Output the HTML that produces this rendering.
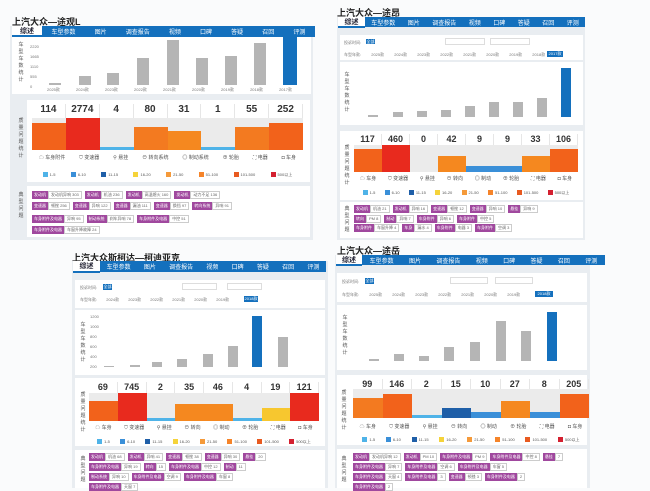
<!DOCTYPE html>
<html><head><meta charset="utf-8">
<style>
*{margin:0;padding:0;box-sizing:border-box}
body{width:650px;height:488px;background:#fafbfc;position:relative;overflow:hidden;font-family:"Liberation Sans","Noto Sans CJK SC",sans-serif}
.a{position:absolute}
.pan{position:absolute;background:#e9edf1}
.bx{position:absolute;background:#fff}
.ttl{position:absolute;font-size:9px;font-weight:bold;color:#222;white-space:nowrap}
.tabs{position:absolute;background:#1470bd;display:flex;justify-content:space-around;align-items:center;color:#fff;font-size:6px;white-space:nowrap}
.wt{position:absolute;background:#fff;font-size:7px;font-weight:bold;color:#223;text-align:center;border-bottom:2px solid #1470bd}
.gb{position:absolute;background:#b5b5b5}
.bb{position:absolute;background:#1470bd}
.sm{position:absolute;font-size:4px;color:#777;white-space:nowrap}
.nums{position:absolute;display:flex;font-size:10px;font-weight:bold;color:#333}
.nums div{flex:1;text-align:center;border-right:1px solid #e6e6e6}
.bars{position:absolute;display:flex;align-items:flex-end;background:#ebebeb}
.bars div{flex:1}
.icons{position:absolute;display:flex;justify-content:space-around;font-size:5px;color:#555;white-space:nowrap}
.leg{position:absolute;display:flex;justify-content:space-around;font-size:4px;color:#555;white-space:nowrap}
.leg i{display:inline-block;width:5px;height:5px;margin-right:2px;vertical-align:middle}
.tg{position:absolute;display:flex;gap:3px;font-size:4px;white-space:nowrap}
.tg span{display:inline-flex}
.tg b{background:#a0489e;color:#fff;font-weight:normal;padding:1px 2px}
.tg em{font-style:normal;border:1px solid #ccc;color:#666;padding:0 2px;background:#fff}
.vt{position:absolute;font-size:5px;color:#555;width:6px;line-height:7px;text-align:center}
.sel{position:absolute;background:#1470bd;color:#fff;font-size:4px;text-align:center}
.inp{position:absolute;border:1px solid #ddd;background:#fff}
</style></head><body>

<!-- Panel A -->
<div class="ttl" style="left:12px;top:15px">上汽大众—途观L</div>
<div class="pan" style="left:10px;top:26px;width:303px;height:214px"></div>
<div class="tabs" style="left:42px;top:26px;width:273px;height:11px"><span>车型参数</span><span>图片</span><span>调查报告</span><span>视频</span><span>口碑</span><span>答疑</span><span>召回</span><span>评测</span></div>
<div class="wt" style="left:12px;top:26px;width:30px;height:11px">综述</div>
<div class="bx" style="left:12px;top:37px;width:299px;height:57px"></div>
<div class="vt" style="left:18px;top:42px">车型车数统计</div>
<div class="sm" style="left:30px;top:44px">2220<br><br>1665<br><br>1110<br><br>555<br><br>0</div>
<div class="gb" style="left:49px;top:83px;width:12px;height:2px"></div>
<div class="gb" style="left:79px;top:76px;width:12px;height:9px"></div>
<div class="gb" style="left:107px;top:73px;width:12px;height:12px"></div>
<div class="gb" style="left:137px;top:58px;width:12px;height:27px"></div>
<div class="gb" style="left:167px;top:40px;width:12px;height:45px"></div>
<div class="gb" style="left:196px;top:58px;width:12px;height:27px"></div>
<div class="gb" style="left:225px;top:56px;width:12px;height:29px"></div>
<div class="gb" style="left:254px;top:43px;width:12px;height:42px"></div>
<div class="bb" style="left:283px;top:37px;width:14px;height:48px"></div>
<div class="sm" style="left:47px;top:87px;word-spacing:15px">2025款 2024款 2023款 2022款 2021款 2020款 2019款 2018款 2017款</div>
<div class="bx" style="left:27px;top:100px;width:283px;height:82px"></div>
<div class="vt" style="left:18px;top:118px">质量问题统计</div>
<div class="nums" style="left:32px;top:104px;width:271px;height:14px"><div>114</div><div>2774</div><div>4</div><div>80</div><div>31</div><div>1</div><div>55</div><div>252</div></div>
<div class="bars" style="left:32px;top:118px;width:271px;height:32px"><div style="height:27px;background:#f2621b"></div><div style="height:32px;background:#e82a1e"></div><div style="height:3px;background:#4fb3e8"></div><div style="height:23px;background:#f37a20"></div><div style="height:19px;background:#f5881f"></div><div style="height:3px;background:#4fb3e8"></div><div style="height:23px;background:#f37a20"></div><div style="height:27px;background:#f2621b"></div></div>
<div class="icons" style="left:32px;top:154px;width:271px"><span>☁ 车身附件</span><span>⛉ 变速器</span><span>⚲ 悬挂</span><span>⊖ 转向系统</span><span>◎ 制动系统</span><span>⊕ 轮胎</span><span>⛶ 电器</span><span>◘ 车身</span></div>
<div class="leg" style="left:35px;top:172px;width:265px"><span><i style="background:#4fb3e8"></i>1-5</span><span><i style="background:#3a8fd8"></i>6-10</span><span><i style="background:#1f5fa8"></i>11-15</span><span><i style="background:#f5d33a"></i>16-20</span><span><i style="background:#f59a3a"></i>21-50</span><span><i style="background:#f5842a"></i>51-100</span><span><i style="background:#e85a20"></i>101-500</span><span><i style="background:#d42030"></i>500以上</span></div>
<div class="bx" style="left:27px;top:186px;width:283px;height:51px"></div>
<div class="vt" style="left:18px;top:192px">典型问题</div>
<div class="tg" style="left:32px;top:191px"><span><b>发动机</b><em>发动机异响 303</em></span><span><b>发动机</b><em>机油 236</em></span><span><b>发动机</b><em>高温熄火 160</em></span><span><b>发动机</b><em>动力不足 136</em></span></div>
<div class="tg" style="left:32px;top:202px"><span><b>变速器</b><em>顿挫 256</em></span><span><b>变速器</b><em>异响 122</em></span><span><b>变速器</b><em>漏油 111</em></span><span><b>变速器</b><em>换挡 97</em></span><span><b>转向系统</b><em>异响 91</em></span></div>
<div class="tg" style="left:32px;top:215px"><span><b>车身附件及电器</b><em>异响 95</em></span><span><b>制动系统</b><em>刹车异响 78</em></span><span><b>车身附件及电器</b><em>中控 51</em></span></div>
<div class="tg" style="left:32px;top:226px"><span><b>车身附件及电器</b><em>车窗升降故障 24</em></span></div>

<!-- Panel B -->
<div class="ttl" style="left:337px;top:6px">上汽大众—途昂</div>
<div class="pan" style="left:337px;top:17px;width:248px;height:223px"></div>
<div class="tabs" style="left:365px;top:17px;width:220px;height:10px"><span>车型参数</span><span>图片</span><span>调查报告</span><span>视频</span><span>口碑</span><span>答疑</span><span>召回</span><span>评测</span></div>
<div class="wt" style="left:338px;top:17px;width:27px;height:11px">综述</div>
<div class="bx" style="left:340px;top:35px;width:243px;height:25px"></div>
<div class="sm" style="left:344px;top:40px">投诉时间:</div><div class="sel" style="left:366px;top:39px;width:9px;height:5px">全部</div>
<div class="inp" style="left:445px;top:38px;width:40px;height:7px"></div><div class="inp" style="left:490px;top:38px;width:40px;height:7px"></div>
<div class="sm" style="left:344px;top:52px;word-spacing:9px">车型年款: 2025款 2024款 2023款 2022款 2021款 2020款 2019款 2018款</div>
<div class="sel" style="left:547px;top:51px;width:16px;height:6px">2017款</div>
<div class="bx" style="left:340px;top:62px;width:243px;height:63px"></div>
<div class="vt" style="left:344px;top:72px">车型车数统计</div>
<div class="gb" style="left:368px;top:115px;width:10px;height:2px"></div>
<div class="gb" style="left:393px;top:112px;width:10px;height:5px"></div>
<div class="gb" style="left:417px;top:111px;width:10px;height:6px"></div>
<div class="gb" style="left:441px;top:110px;width:10px;height:7px"></div>
<div class="gb" style="left:465px;top:106px;width:10px;height:11px"></div>
<div class="gb" style="left:489px;top:102px;width:10px;height:15px"></div>
<div class="gb" style="left:513px;top:102px;width:10px;height:15px"></div>
<div class="gb" style="left:537px;top:98px;width:10px;height:19px"></div>
<div class="bb" style="left:561px;top:68px;width:10px;height:49px"></div>
<div class="bx" style="left:340px;top:131px;width:243px;height:69px"></div>
<div class="vt" style="left:344px;top:145px">质量问题统计</div>
<div class="nums" style="left:354px;top:134px;width:224px;height:11px;font-size:9px"><div>117</div><div>460</div><div>0</div><div>42</div><div>9</div><div>9</div><div>33</div><div>106</div></div>
<div class="bars" style="left:354px;top:145px;width:224px;height:27px"><div style="height:23px;background:#f2621b"></div><div style="height:27px;background:#e82a1e"></div><div style="height:0"></div><div style="height:16px;background:#f5881f"></div><div style="height:6px;background:#3a8fd8"></div><div style="height:6px;background:#3a8fd8"></div><div style="height:16px;background:#f5881f"></div><div style="height:23px;background:#f2621b"></div></div>
<div class="icons" style="left:354px;top:175px;width:224px"><span>☁ 车身</span><span>⛉ 变速器</span><span>⚲ 悬挂</span><span>⊖ 转向</span><span>◎ 制动</span><span>⊕ 轮胎</span><span>⛶ 电器</span><span>◘ 车身</span></div>
<div class="leg" style="left:358px;top:190px;width:216px"><span><i style="background:#4fb3e8"></i>1-5</span><span><i style="background:#3a8fd8"></i>6-10</span><span><i style="background:#1f5fa8"></i>11-15</span><span><i style="background:#f5d33a"></i>16-20</span><span><i style="background:#f59a3a"></i>21-50</span><span><i style="background:#f5842a"></i>51-100</span><span><i style="background:#e85a20"></i>101-500</span><span><i style="background:#d42030"></i>500以上</span></div>
<div class="bx" style="left:340px;top:202px;width:243px;height:36px"></div>
<div class="vt" style="left:344px;top:206px">典型问题</div>
<div class="tg" style="left:354px;top:205px"><span><b>发动机</b><em>机油 21</em></span><span><b>发动机</b><em>异响 16</em></span><span><b>变速器</b><em>顿挫 12</em></span><span><b>变速器</b><em>异响 10</em></span><span><b>悬挂</b><em>异响 9</em></span></div>
<div class="tg" style="left:354px;top:215px"><span><b>转向</b><em>PM 8</em></span><span><b>制动</b><em>异响 7</em></span><span><b>车身附件</b><em>异响 6</em></span><span><b>车身附件</b><em>中控 5</em></span></div>
<div class="tg" style="left:354px;top:224px"><span><b>车身附件</b><em>车窗升降 4</em></span><span><b>车身</b><em>漏水 4</em></span><span><b>车身附件</b><em>电器 3</em></span><span><b>车身附件</b><em>空调 3</em></span></div>

<!-- Panel C -->
<div class="ttl" style="left:72px;top:251px">上汽大众斯柯达—柯迪亚克</div>
<div class="pan" style="left:72px;top:261px;width:256px;height:227px"></div>
<div class="tabs" style="left:100px;top:261px;width:226px;height:11px"><span>车型参数</span><span>图片</span><span>调查报告</span><span>视频</span><span>口碑</span><span>答疑</span><span>召回</span><span>评测</span></div>
<div class="wt" style="left:73px;top:261px;width:27px;height:12px">综述</div>
<div class="bx" style="left:75px;top:280px;width:250px;height:28px"></div>
<div class="sm" style="left:80px;top:285px">投诉时间:</div><div class="sel" style="left:103px;top:284px;width:9px;height:6px">全部</div>
<div class="inp" style="left:182px;top:283px;width:35px;height:7px"></div><div class="inp" style="left:227px;top:283px;width:35px;height:7px"></div>
<div class="sm" style="left:80px;top:297px;word-spacing:8px">车型年款: 2024款 2023款 2022款 2021款 2020款 2019款</div>
<div class="sel" style="left:244px;top:296px;width:14px;height:6px">2018款</div>
<div class="bx" style="left:75px;top:310px;width:250px;height:65px"></div>
<div class="vt" style="left:80px;top:322px">车型车数统计</div>
<div class="sm" style="left:90px;top:314px">1200<br><br>1000<br><br>800<br><br>600<br><br>400<br><br>200</div>
<div class="gb" style="left:104px;top:366px;width:10px;height:1px"></div>
<div class="gb" style="left:130px;top:365px;width:10px;height:2px"></div>
<div class="gb" style="left:152px;top:362px;width:10px;height:5px"></div>
<div class="gb" style="left:177px;top:359px;width:10px;height:8px"></div>
<div class="gb" style="left:203px;top:354px;width:10px;height:13px"></div>
<div class="gb" style="left:228px;top:346px;width:10px;height:21px"></div>
<div class="bb" style="left:252px;top:316px;width:10px;height:51px"></div>
<div class="gb" style="left:278px;top:337px;width:10px;height:30px"></div>
<div class="bx" style="left:75px;top:378px;width:250px;height:68px"></div>
<div class="vt" style="left:80px;top:392px">质量问题统计</div>
<div class="nums" style="left:89px;top:382px;width:230px;height:11px;font-size:9px"><div>69</div><div>745</div><div>2</div><div>35</div><div>46</div><div>4</div><div>19</div><div>121</div></div>
<div class="bars" style="left:89px;top:393px;width:230px;height:28px"><div style="height:20px;background:#f2621b"></div><div style="height:28px;background:#e82a1e"></div><div style="height:3px;background:#4fb3e8"></div><div style="height:17px;background:#f5881f"></div><div style="height:17px;background:#f5881f"></div><div style="height:3px;background:#4fb3e8"></div><div style="height:13px;background:#f7c72f"></div><div style="height:28px;background:#e82a1e"></div></div>
<div class="icons" style="left:89px;top:424px;width:230px"><span>☁ 车身</span><span>⛉ 变速器</span><span>⚲ 悬挂</span><span>⊖ 转向</span><span>◎ 制动</span><span>⊕ 轮胎</span><span>⛶ 电器</span><span>◘ 车身</span></div>
<div class="leg" style="left:92px;top:439px;width:224px"><span><i style="background:#4fb3e8"></i>1-5</span><span><i style="background:#3a8fd8"></i>6-10</span><span><i style="background:#1f5fa8"></i>11-15</span><span><i style="background:#f5d33a"></i>16-20</span><span><i style="background:#f59a3a"></i>21-50</span><span><i style="background:#f5842a"></i>51-100</span><span><i style="background:#e85a20"></i>101-500</span><span><i style="background:#d42030"></i>500以上</span></div>
<div class="bx" style="left:75px;top:450px;width:250px;height:38px"></div>
<div class="vt" style="left:80px;top:456px">典型问题</div>
<div class="tg" style="left:89px;top:453px"><span><b>发动机</b><em>机油 68</em></span><span><b>发动机</b><em>异响 41</em></span><span><b>变速器</b><em>顿挫 38</em></span><span><b>变速器</b><em>异响 30</em></span><span><b>悬挂</b><em>20</em></span></div>
<div class="tg" style="left:89px;top:463px"><span><b>车身附件及电器</b><em>异响 19</em></span><span><b>转向</b><em>15</em></span><span><b>车身附件及电器</b><em>中控 12</em></span><span><b>制动</b><em>11</em></span></div>
<div class="tg" style="left:89px;top:473px"><span><b>制动系统</b><em>异响 10</em></span><span><b>车身附件及电器</b><em>空调 9</em></span><span><b>车身附件及电器</b><em>车窗 8</em></span></div>
<div class="tg" style="left:89px;top:483px"><span><b>车身附件及电器</b><em>天窗 7</em></span></div>

<!-- Panel D -->
<div class="ttl" style="left:337px;top:244px">上汽大众—途岳</div>
<div class="pan" style="left:335px;top:255px;width:255px;height:233px"></div>
<div class="tabs" style="left:362px;top:255px;width:243px;height:10px"><span>车型参数</span><span>图片</span><span>调查报告</span><span>视频</span><span>口碑</span><span>答疑</span><span>召回</span><span>评测</span></div>
<div class="wt" style="left:336px;top:255px;width:26px;height:11px">综述</div>
<div class="bx" style="left:337px;top:273px;width:250px;height:29px"></div>
<div class="sm" style="left:342px;top:279px">投诉时间:</div><div class="sel" style="left:365px;top:278px;width:9px;height:6px">全部</div>
<div class="inp" style="left:450px;top:277px;width:38px;height:7px"></div><div class="inp" style="left:495px;top:277px;width:38px;height:7px"></div>
<div class="sm" style="left:342px;top:292px;word-spacing:9px">车型年款: 2025款 2024款 2023款 2022款 2021款 2020款 2019款</div>
<div class="sel" style="left:535px;top:291px;width:18px;height:6px">2018款</div>
<div class="bx" style="left:337px;top:305px;width:250px;height:65px"></div>
<div class="vt" style="left:342px;top:315px">车型车数统计</div>
<div class="gb" style="left:369px;top:359px;width:10px;height:2px"></div>
<div class="gb" style="left:394px;top:354px;width:10px;height:7px"></div>
<div class="gb" style="left:419px;top:356px;width:10px;height:5px"></div>
<div class="gb" style="left:444px;top:347px;width:10px;height:14px"></div>
<div class="gb" style="left:470px;top:342px;width:10px;height:19px"></div>
<div class="gb" style="left:496px;top:321px;width:10px;height:40px"></div>
<div class="gb" style="left:521px;top:331px;width:10px;height:30px"></div>
<div class="bb" style="left:547px;top:312px;width:10px;height:49px"></div>
<div class="bx" style="left:337px;top:375px;width:250px;height:70px"></div>
<div class="vt" style="left:341px;top:390px">质量问题统计</div>
<div class="nums" style="left:353px;top:379px;width:236px;height:10px;font-size:9px"><div>99</div><div>146</div><div>2</div><div>15</div><div>10</div><div>27</div><div>8</div><div>205</div></div>
<div class="bars" style="left:353px;top:389px;width:236px;height:29px"><div style="height:20px;background:#f37a20"></div><div style="height:24px;background:#f2621b"></div><div style="height:3px;background:#4fb3e8"></div><div style="height:10px;background:#1f5fa8"></div><div style="height:6px;background:#3a8fd8"></div><div style="height:17px;background:#f5881f"></div><div style="height:6px;background:#3a8fd8"></div><div style="height:24px;background:#f2621b"></div></div>
<div class="icons" style="left:353px;top:423px;width:236px"><span>☁ 车身</span><span>⛉ 变速器</span><span>⚲ 悬挂</span><span>⊖ 转向</span><span>◎ 制动</span><span>⊕ 轮胎</span><span>⛶ 电器</span><span>◘ 车身</span></div>
<div class="leg" style="left:357px;top:437px;width:228px"><span><i style="background:#4fb3e8"></i>1-5</span><span><i style="background:#3a8fd8"></i>6-10</span><span><i style="background:#1f5fa8"></i>11-15</span><span><i style="background:#f5d33a"></i>16-20</span><span><i style="background:#f59a3a"></i>21-50</span><span><i style="background:#f5842a"></i>51-100</span><span><i style="background:#e85a20"></i>101-500</span><span><i style="background:#d42030"></i>500以上</span></div>
<div class="bx" style="left:337px;top:449px;width:250px;height:39px"></div>
<div class="vt" style="left:341px;top:456px">典型问题</div>
<div class="tg" style="left:353px;top:453px"><span><b>发动机</b><em>发动机异响 12</em></span><span><b>发动机</b><em>PM 10</em></span><span><b>车身附件及电器</b><em>PM 9</em></span><span><b>车身附件及电器</b><em>中控 8</em></span><span><b>悬挂</b><em>7</em></span></div>
<div class="tg" style="left:353px;top:463px"><span><b>车身附件及电器</b><em>异响 7</em></span><span><b>车身附件及电器</b><em>空调 6</em></span><span><b>车身附件及电器</b><em>车窗 5</em></span></div>
<div class="tg" style="left:353px;top:473px"><span><b>车身附件及电器</b><em>天窗 4</em></span><span><b>车身附件及电器</b><em>3</em></span><span><b>变速器</b><em>顿挫 3</em></span><span><b>车身附件及电器</b><em>2</em></span></div>
<div class="tg" style="left:353px;top:483px"><span><b>车身附件及电器</b><em>2</em></span></div>
</body></html>
